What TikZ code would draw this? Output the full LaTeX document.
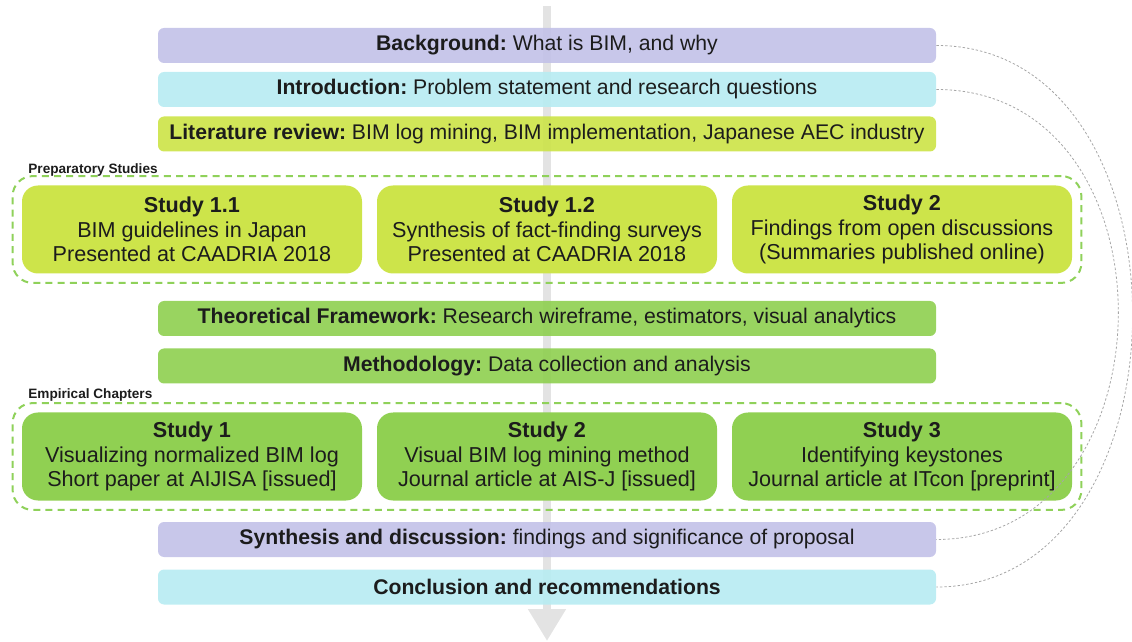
\documentclass[tikz,border=0pt]{standalone}
\usepackage{fontspec}
\setmainfont{Liberation Sans}
\usepackage{xcolor}
\usetikzlibrary{arrows.meta,fit}

\definecolor{lavender}{HTML}{C3C2E8}
\definecolor{paleblue}{HTML}{B8ECF2}
\definecolor{lime}{HTML}{CDE44A}
\definecolor{leaf}{HTML}{90D052}
\definecolor{dashgreen}{HTML}{8FD15A}
\definecolor{inkgray}{HTML}{1C1C1C}

\begin{document}
\begin{tikzpicture}[x=0.5pt, y=-0.5pt,
        bar/.style={rectangle, rounded corners=3pt, minimum width=389pt,
            minimum height=17.5pt, inner sep=0pt, text=inkgray, font=\fontsize{10.6}{12}\selectfont},
        studybox/.style={rectangle, rounded corners=8pt, minimum width=170pt,
            minimum height=44pt, inner sep=0pt, align=center, text=inkgray,
            font=\fontsize{10.8}{12.2}\selectfont},
        group/.style={draw=dashgreen, line width=1pt, dash pattern=on 3.5pt off 2.6pt,
            rounded corners=10pt, inner sep=4.5pt},
        grouplabel/.style={anchor=west, inner sep=0pt, text=inkgray,
            font=\fontsize{6.8}{8}\selectfont\bfseries},
        link/.style={gray!70, line width=0.4pt, dash pattern=on 1.2pt off 1pt}]
        \useasboundingbox (0,0) rectangle (1132,642);

        % Reading direction
        \coordinate (top) at (547,6);
        \coordinate (bottom) at (547,641);
        \draw[gray!22, line width=4.2pt, -{Triangle[width=18pt, length=16pt]}] (top) -- (bottom);

        % Introductory parts
        \node[bar, fill=lavender, fill opacity=0.92, text opacity=1] (bg) at (547,45.5) {\textbf{Background:}~What is BIM, and why};
        \node[bar, fill=paleblue, fill opacity=0.92, text opacity=1] (intro) at (547,89.5) {\textbf{Introduction:}~Problem statement and research questions};
        \node[bar, fill=lime, fill opacity=0.92, text opacity=1] (lit) at (547,134) {\textbf{Literature review:}~BIM log mining, BIM implementation, Japanese AEC industry};

        % Preparatory studies
        \node[studybox, fill=lime] (s11) at (192,229.5) {\textbf{Study 1.1}\\BIM guidelines in Japan\\Presented at CAADRIA 2018};
        \node[studybox, fill=lime] (s12) at (547,229.5) {\textbf{Study 1.2}\\Synthesis of fact-finding surveys\\Presented at CAADRIA 2018};
        \node[studybox, fill=lime] (s2) at (902,229.5) {\textbf{Study 2}\\Findings from open discussions\\(Summaries published online)};
        \node[group, fit=(s11)(s12)(s2)] (prep) {};
        \node[grouplabel] (preplabel) at (28,170) {Preparatory Studies};

        % Framework and method
        \node[bar, fill=leaf, fill opacity=0.92, text opacity=1] (theory) at (547,318.5) {\textbf{Theoretical Framework:}~Research wireframe, estimators, visual analytics};
        \node[bar, fill=leaf, fill opacity=0.92, text opacity=1] (method) at (547,366) {\textbf{Methodology:}~Data collection and analysis};

        % Empirical chapters
        \node[studybox, fill=leaf] (e1) at (192,456.5) {\textbf{Study 1}\\Visualizing normalized BIM log\\Short paper at AIJISA [issued]};
        \node[studybox, fill=leaf] (e2) at (547,456.5) {\textbf{Study 2}\\Visual BIM log mining method\\Journal article at AIS-J [issued]};
        \node[studybox, fill=leaf] (e3) at (902,456.5) {\textbf{Study 3}\\Identifying keystones\\Journal article at ITcon [preprint]};
        \node[group, fit=(e1)(e2)(e3)] (emp) {};
        \node[grouplabel] (emplabel) at (28,395) {Empirical Chapters};

        % Closing parts
        \node[bar, fill=lavender, fill opacity=0.92, text opacity=1] (synth) at (547,539.5) {\textbf{Synthesis and discussion:}~findings and significance of proposal};
        \node[bar, fill=paleblue, fill opacity=0.92, text opacity=1] (concl) at (547,587) {\textbf{Conclusion and recommendations}};

        % Links between matching parts
        \draw[link] (bg.east) .. controls (1200,45.5) and (1196,587) .. (concl.east);
        \draw[link] (intro.east) .. controls (1182,89.5) and (1176,539.5) .. (synth.east);
    \end{tikzpicture}
\end{document}
